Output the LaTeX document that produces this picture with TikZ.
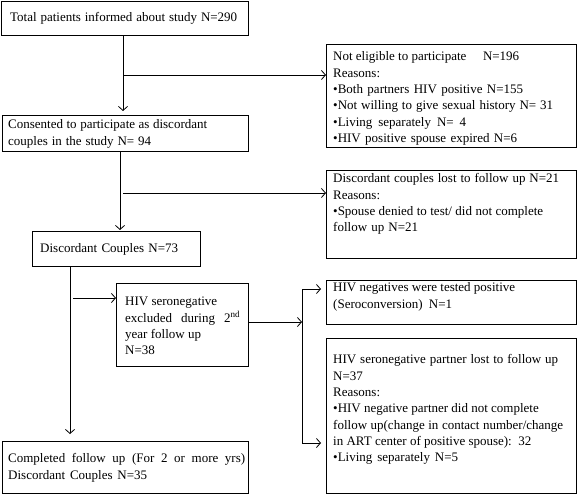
\documentclass[tikz,border=0pt]{standalone}
\usepackage{fontspec}
\setmainfont{Liberation Serif}
\usetikzlibrary{arrows.meta}
\newcommand\lw[2]{\leavevmode\hbox to #1pt{\spaceskip=0.25em plus 1fil\relax #2}}
\begin{document}
\begin{tikzpicture}[x=1pt,y=1pt,
  box/.style={draw, line width=0.9pt, anchor=north west, inner sep=0pt},
  txt/.style={anchor=north west, inner sep=0pt, align=left, text width=245pt,
    font=\fontsize{13}{16.3}\selectfont},
  conn/.style={line width=0.8pt},
  arr/.style={conn, -{Straight Barb[length=4pt,width=9pt]}}]
\useasboundingbox (0,0) rectangle (578,-494);
% boxes
\node[box, minimum width=247pt, minimum height=34pt] (b1) at (1,-1) {};
\node[box, minimum width=250pt, minimum height=103pt] (b2) at (326,-44) {};
\node[box, minimum width=246pt, minimum height=36pt] (b3) at (2,-115) {};
\node[box, minimum width=250pt, minimum height=88pt] (b4) at (326,-170) {};
\node[box, minimum width=168pt, minimum height=35pt] (b5) at (32,-231) {};
\node[box, minimum width=132pt, minimum height=83pt] (b6) at (116,-283) {};
\node[box, minimum width=250pt, minimum height=44pt] (b7) at (326,-280) {};
\node[box, minimum width=250pt, minimum height=155pt] (b8) at (326,-338) {};
\node[box, minimum width=246pt, minimum height=52pt] (b9) at (2,-441) {};
% texts
\node[txt] (t1) at (10,-10.3) {\strut\lw{227}{Total patients informed about study N=290}};
\node[txt] (t2) at (333,-49.3) {\strut\lw{186}{\lw{131}{Not eligible to participate}\hfill N=196}\\
  Reasons:\\
  \lw{190}{•Both partners HIV positive N=155}\\
  \lw{220}{•Not willing to give sexual history N= 31}\\
  \lw{133}{•Living separately N= 4}\\
  \lw{184}{•HIV positive spouse expired N=6}};
\node[txt] (t3) at (8,-117.3) {\strut\lw{199}{Consented to participate as discordant}\\
  \lw{143}{couples in the study N= 94}};
\node[txt] (t4) at (333,-171.3) {\strut\lw{226}{Discordant couples lost to follow up N=21}\\
  Reasons:\\
  \lw{210}{•Spouse denied to test/ did not complete}\\
  \lw{85}{follow up N=21}};
\node[txt] (t5) at (40,-240.8) {\strut\lw{138}{Discordant Couples N=73}};
\node[txt] (t6) at (125,-294.3) {\strut\lw{88}{HIV seronegative}\\
  \lw{115}{excluded during 2\textsuperscript{nd}}\\
  \lw{76}{year follow up}\\
  N=38};
\node[txt] (t7) at (333,-280.3) {\strut\lw{180}{HIV negatives were tested positive}\\
  \lw{119}{(Seroconversion) N=1}};
\node[txt] (t8) at (333,-352.3) {\strut\lw{225}{HIV seronegative partner lost to follow up}\\
  N=37\\
  Reasons:\\
  \lw{205}{•HIV negative partner did not complete}\\
  \lw{230}{follow up(change in contact number/change}\\
  \lw{197}{in ART center of positive spouse): 32}\\
  \lw{125}{•Living separately N=5}};
\node[txt] (t9) at (8,-451.3) {\strut\lw{237}{Completed follow up (For 2 or more yrs)}\\
  \lw{139}{Discordant Couples N=35}};
% connectors
\coordinate (v1) at (123,0);
\draw[arr] (b1.south -| v1) -- ([yshift=4pt]b3.north -| v1);
\coordinate (j1) at (123,-75);
\draw[arr] (j1) -- (j1 -| b2.west);
\coordinate (v2) at (120,0);
\draw[arr] (b3.south -| v2) -- ([yshift=1pt]b5.north -| v2);
\coordinate (j2) at (123,-193);
\draw[arr] (j2) -- (j2 -| b4.west);
\coordinate (v3) at (70,0);
\draw[arr] (b5.south -| v3) -- ([yshift=7pt]b9.north -| v3);
\coordinate (j3) at (73,-298);
\draw[arr] (j3) -- (j3 -| b6.west);
\coordinate (s0) at (302,-289);
\coordinate (s1) at (302,-443);
\draw[conn] (s0) -- (s1);
\coordinate (m) at (302,-322);
\draw[arr] (m -| b6.east) -- (m);
\draw[arr] (s0) -- ([xshift=-5pt]s0 -| b7.west);
\draw[arr] (s1) -- ([xshift=-5pt]s1 -| b8.west);
\end{tikzpicture}
\end{document}
